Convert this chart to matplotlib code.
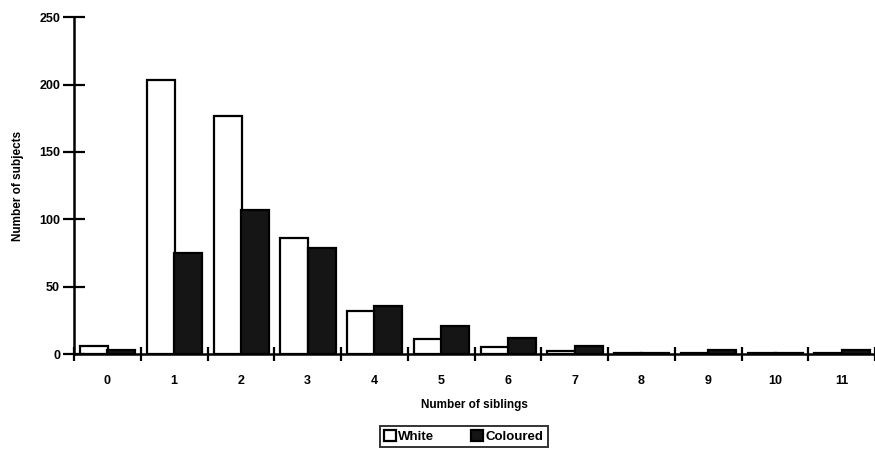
import matplotlib
matplotlib.use("Agg")
import matplotlib.pyplot as plt
import numpy as np

plt.rcParams["font.family"] = ["Liberation Sans", "DejaVu Sans"]

siblings = ["0", "1", "2", "3", "4", "5", "6", "7", "8", "9", "10", "11"]
white = [6, 203, 177, 86, 32, 11, 5, 2, 1, 1, 1, 1]
coloured = [3, 75, 107, 79, 36, 21, 12, 6, 1, 3, 1, 3]

x = np.arange(len(siblings))
width = 0.42

fig = plt.figure(figsize=(8.75, 4.5), dpi=100)
ax = fig.add_axes([0.0846, 0.213, 0.9154, 0.749])

ax.bar(x - 0.2, white, width, color="white", edgecolor="black", linewidth=1.6, label="White")
ax.bar(x + 0.21, coloured, width, color="#151515", edgecolor="black", linewidth=1.6, label="Coloured")

ax.set_xlim(-0.5, 11.44)
ax.set_ylim(0, 250)
ax.set_yticks([0, 50, 100, 150, 200, 250])

# category labels sit in the middle, tick marks on the boundaries
ax.set_xticks(x)
ax.set_xticklabels(siblings)
ax.set_xticks(np.arange(-0.5, 12, 1), minor=True)
ax.tick_params(axis="x", which="major", length=0, pad=15)
ax.tick_params(axis="x", which="minor", direction="inout", length=10, width=1.6)
ax.tick_params(axis="y", direction="inout", length=16, width=1.6, pad=2)
for lab in ax.get_xticklabels() + ax.get_yticklabels():
    lab.set_fontsize(9)
    lab.set_fontweight("bold")

for side in ("top", "right"):
    ax.spines[side].set_visible(False)
for side in ("left", "bottom"):
    ax.spines[side].set_linewidth(1.8)

ax.set_xlabel("Number of siblings", fontsize=8.5, fontweight="bold", labelpad=9)
ax.set_ylabel("Number of subjects", fontsize=8.5, fontweight="bold", labelpad=11)

leg = fig.legend(loc="center", bbox_to_anchor=(0.53, 0.029), ncol=2, frameon=True,
                 fancybox=False, edgecolor="black", handlelength=0.9,
                 handleheight=0.9, handletextpad=0.2, columnspacing=2.8, borderpad=0.3,
                 prop={"weight": "bold", "size": 9.5})
leg.get_frame().set_linewidth(1.4)

fig.savefig("out.png", dpi=100)
